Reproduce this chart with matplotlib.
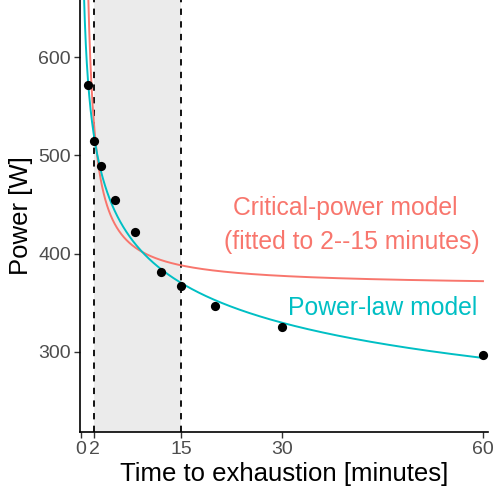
import numpy as np
import matplotlib
matplotlib.use("Agg")
import matplotlib.pyplot as plt

plt.rcParams["font.family"] = ["Liberation Sans", "DejaVu Sans"]

# observed best efforts
times = [1, 2, 3, 5, 8, 12, 15, 20, 30, 60]
power = [572, 515, 489, 455, 422, 381, 367, 347, 325, 297]

# model parameters
pl_a, pl_b = 580.0, -0.166        # power law: a * t^b
cp, w_prime = 366.7, 320.0        # critical power: cp + w'/t

x_ticks = [0, 2, 15, 30, 60]
y_ticks = [300, 400, 500, 600]
fit_window = (2, 15)

red = "#F8766D"
teal = "#00BFC4"

fig = plt.figure(figsize=(4.95, 4.86), dpi=100)
ax = fig.add_axes([80 / 495, 54 / 486, 408 / 495, 432 / 486])

ax.axvspan(*fit_window, color="#EBEBEB", lw=0, zorder=0)
for xv in fit_window:
    ax.axvline(xv, color="black", ls=(0, (3.5, 3.5)), lw=1.3, zorder=1)

t = np.linspace(0.3, 60, 2000)
ax.plot(t, cp + w_prime / t, color=red, lw=1.4, zorder=2)
ax.plot(t, pl_a * t ** pl_b, color=teal, lw=1.4, zorder=3)
ax.scatter(times, power, s=44, color="black", zorder=4, linewidths=0)

ax.text(39.4, 446, "Critical-power model", color=red, fontsize=17.8,
        ha="center", va="center")
ax.text(40.4, 412, "(fitted to 2--15 minutes)", color=red, fontsize=17.8,
        ha="center", va="center")
ax.text(45.0, 345, "Power-law model", color=teal, fontsize=17.8,
        ha="center", va="center")

ax.set_xlim(-0.15, 60.75)
ax.set_ylim(218.6, 658)
ax.set_xticks(x_ticks)
ax.set_yticks(y_ticks)
ax.tick_params(colors="#333333", labelcolor="#4D4D4D", labelsize=14,
               length=4, width=1, pad=2.5)
ax.set_xlabel("Time to exhaustion [minutes]", fontsize=18.5, labelpad=2.5)
ax.set_ylabel("Power [W]", fontsize=18.5, labelpad=4)
for side in ("top", "right"):
    ax.spines[side].set_visible(False)
for side in ("left", "bottom"):
    ax.spines[side].set_linewidth(1.2)

fig.savefig("out.png", dpi=100)
